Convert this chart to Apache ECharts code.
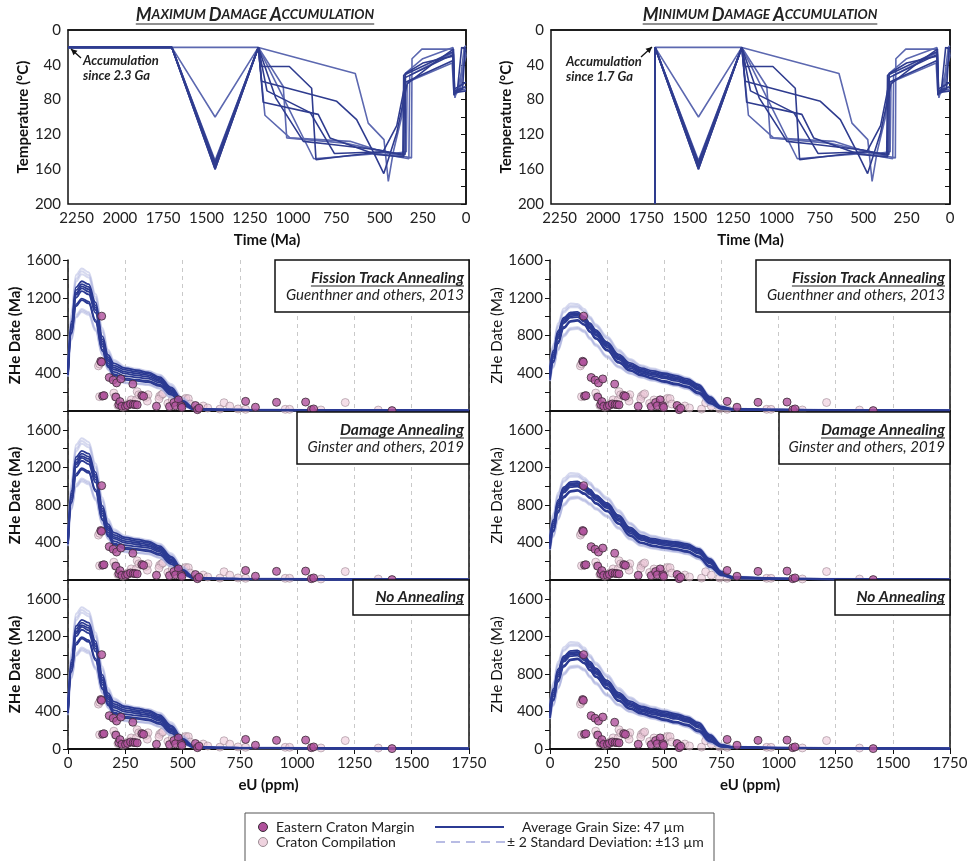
<!DOCTYPE html>
<html>
<head>
<meta charset="utf-8">
<script src="https://cdn.jsdelivr.net/npm/echarts@6/dist/echarts.min.js"></script>
<style>
html, body { margin: 0; padding: 0; background: #fff; }
#main { width: 970px; height: 861px; }
</style>
</head>
<body>
<div id="main"></div>
<script>
// ---- eU sample positions (ppm) shared by all date-eU curves
const EU = [0, 15, 35, 60, 90, 120, 150, 175, 200, 250, 300, 350, 400, 450, 500, 550, 600, 650, 700, 750, 800, 1000, 1250, 1500, 1750];

// left column (max damage accumulation), average grain size
const leftDark = [
  [420, 950, 1310, 1375, 1345, 1150, 790, 595, 505, 455, 432, 410, 360, 250, 110, 32, 18, 15, 14, 13, 12, 10, 8, 6, 5],
  [410, 920, 1280, 1345, 1315, 1120, 760, 570, 480, 435, 415, 395, 345, 235, 100, 28, 17, 15, 14, 13, 12, 10, 8, 6, 5],
  [405, 900, 1250, 1320, 1290, 1095, 735, 550, 460, 415, 397, 380, 330, 220, 90, 25, 16, 14, 13, 12, 11, 9, 7, 6, 5],
  [400, 880, 1230, 1300, 1265, 1070, 710, 530, 440, 395, 378, 362, 315, 210, 85, 24, 16, 14, 13, 12, 11, 9, 7, 6, 5],
  [395, 860, 1200, 1270, 1235, 1040, 685, 505, 415, 370, 357, 342, 300, 200, 80, 22, 15, 13, 12, 11, 10, 9, 7, 5, 4],
  [385, 830, 1130, 1190, 1160, 965, 650, 480, 390, 345, 332, 318, 280, 185, 70, 20, 15, 13, 12, 11, 10, 8, 7, 5, 4],
  [380, 820, 1110, 1175, 1140, 945, 635, 465, 378, 330, 320, 305, 265, 170, 62, 18, 14, 12, 11, 10, 9, 8, 6, 5, 4]
];
// left column, +/- 2 SD grain size
const leftLight = [
  [450, 1050, 1440, 1510, 1470, 1240, 880, 650, 540, 470, 447, 425, 385, 285, 140, 42, 22, 18, 16, 15, 14, 12, 9, 7, 6],
  [440, 1010, 1400, 1480, 1440, 1210, 855, 630, 525, 460, 440, 420, 375, 270, 130, 38, 20, 17, 15, 14, 13, 11, 9, 7, 6],
  [430, 980, 1370, 1450, 1415, 1190, 835, 615, 512, 450, 432, 410, 365, 260, 120, 35, 19, 16, 15, 14, 13, 11, 8, 6, 5],
  [370, 770, 1020, 1080, 1050, 875, 610, 450, 360, 305, 295, 285, 245, 150, 55, 16, 13, 12, 11, 10, 9, 8, 6, 5, 4],
  [360, 750, 990, 1050, 1020, 850, 590, 435, 348, 295, 287, 275, 235, 140, 50, 15, 12, 11, 10, 9, 8, 7, 6, 5, 4],
  [365, 760, 1000, 1065, 1035, 862, 600, 442, 354, 300, 291, 280, 240, 145, 52, 15, 12, 11, 10, 9, 8, 7, 6, 5, 4]
];
// right column (min damage accumulation): fission track and no annealing
const rightDark = [
  [460, 640, 850, 990, 1045, 1050, 1000, 930, 860, 730, 600, 510, 455, 425, 400, 375, 340, 280, 150, 45, 22, 14, 10, 7, 5],
  [440, 620, 830, 975, 1030, 1035, 985, 915, 845, 715, 585, 495, 440, 410, 385, 360, 325, 265, 140, 40, 20, 13, 9, 7, 5],
  [420, 600, 810, 960, 1020, 1025, 975, 900, 830, 700, 570, 480, 425, 395, 370, 345, 312, 250, 128, 36, 19, 13, 9, 6, 5],
  [400, 580, 790, 945, 1005, 1010, 960, 885, 815, 690, 560, 470, 415, 385, 360, 335, 300, 240, 118, 34, 18, 12, 9, 6, 5],
  [380, 560, 770, 930, 990, 995, 945, 870, 800, 675, 545, 455, 400, 370, 345, 320, 288, 225, 105, 30, 17, 12, 8, 6, 5],
  [350, 530, 735, 890, 955, 965, 920, 845, 775, 650, 520, 435, 385, 350, 318, 292, 262, 200, 88, 26, 16, 11, 8, 6, 4],
  [330, 515, 715, 875, 945, 955, 910, 835, 765, 640, 510, 425, 375, 340, 305, 280, 250, 185, 78, 24, 15, 11, 8, 6, 4]
];
const rightLight = [
  [480, 710, 930, 1085, 1140, 1135, 1080, 1000, 920, 790, 650, 550, 485, 450, 420, 392, 355, 290, 165, 55, 25, 15, 11, 8, 6],
  [470, 690, 905, 1060, 1115, 1115, 1060, 985, 905, 775, 635, 540, 475, 440, 410, 385, 348, 282, 158, 50, 24, 15, 10, 8, 6],
  [460, 675, 890, 1045, 1100, 1100, 1050, 975, 895, 765, 625, 530, 468, 432, 404, 380, 343, 276, 152, 48, 23, 14, 10, 7, 5],
  [320, 470, 650, 800, 870, 880, 845, 770, 700, 575, 470, 400, 358, 325, 298, 270, 238, 170, 65, 20, 13, 10, 7, 5, 4],
  [315, 460, 640, 790, 860, 870, 835, 760, 690, 565, 462, 395, 352, 320, 292, 265, 232, 165, 60, 18, 12, 9, 7, 5, 4],
  [325, 480, 660, 812, 882, 890, 855, 780, 710, 585, 478, 405, 362, 330, 302, 275, 242, 175, 70, 21, 13, 10, 7, 5, 4]
];
// right column, damage annealing
const rightDaDark = [
  [460, 640, 850, 990, 1045, 1050, 1010, 965, 905, 820, 690, 560, 475, 440, 420, 405, 385, 330, 225, 90, 32, 16, 11, 7, 5],
  [440, 620, 830, 975, 1030, 1035, 995, 952, 892, 805, 675, 545, 462, 428, 408, 392, 372, 318, 212, 82, 30, 15, 10, 7, 5],
  [420, 600, 810, 960, 1020, 1025, 985, 940, 880, 795, 660, 530, 450, 418, 398, 382, 362, 308, 200, 76, 28, 15, 10, 7, 5],
  [400, 580, 790, 945, 1005, 1010, 970, 925, 865, 780, 645, 515, 438, 405, 385, 368, 348, 294, 188, 70, 26, 14, 10, 6, 5],
  [380, 560, 770, 930, 990, 995, 955, 910, 850, 765, 630, 500, 425, 392, 372, 355, 335, 280, 175, 64, 24, 13, 9, 6, 5],
  [350, 530, 735, 890, 950, 960, 925, 880, 822, 738, 605, 478, 400, 368, 350, 332, 310, 255, 150, 55, 21, 12, 9, 6, 4],
  [330, 515, 715, 875, 940, 950, 915, 870, 812, 728, 595, 468, 392, 358, 340, 322, 298, 242, 138, 50, 20, 12, 8, 6, 4]
];
const rightDaLight = [
  [480, 710, 930, 1085, 1140, 1135, 1090, 1040, 975, 880, 745, 610, 515, 470, 445, 425, 400, 345, 240, 100, 36, 18, 12, 8, 6],
  [470, 690, 905, 1060, 1115, 1115, 1070, 1025, 960, 865, 730, 598, 505, 462, 438, 418, 392, 338, 232, 95, 34, 17, 11, 8, 6],
  [460, 675, 890, 1045, 1100, 1100, 1060, 1015, 950, 855, 720, 590, 498, 456, 432, 412, 386, 332, 226, 92, 33, 17, 11, 7, 5],
  [320, 470, 650, 800, 870, 880, 850, 810, 760, 680, 555, 440, 370, 340, 322, 304, 280, 225, 125, 44, 18, 11, 8, 5, 4],
  [315, 460, 640, 790, 860, 870, 840, 800, 750, 670, 545, 432, 362, 332, 315, 298, 274, 220, 120, 42, 17, 11, 8, 5, 4],
  [325, 480, 660, 812, 882, 890, 860, 820, 770, 690, 565, 448, 378, 347, 328, 310, 286, 230, 130, 46, 19, 12, 8, 5, 4]
];

// ---- measured grains [eU ppm, ZHe date Ma]
const easternMargin = [
  [147, 1005], [143, 527], [146, 518], [151, 158], [157, 163], [180, 355], [197, 328], [212, 298],
  [231, 340], [283, 285], [209, 148], [222, 67], [227, 100], [235, 50], [251, 48], [260, 60],
  [273, 75], [285, 70], [293, 68], [302, 65], [323, 163], [330, 156], [386, 50], [443, 47],
  [462, 90], [482, 118], [469, 55], [494, 55], [497, 38], [556, 58], [565, 14], [572, 30],
  [775, 102], [818, 40], [910, 92], [1037, 95], [1062, 14], [1072, 22], [1414, 4]
];
const cratonCompilation = [
  [133, 478], [138, 498], [138, 152], [200, 190], [206, 150], [218, 58], [240, 40], [262, 77],
  [276, 118], [298, 117], [302, 205], [309, 172], [320, 168], [341, 145], [349, 173], [346, 105],
  [400, 156], [408, 172], [397, 127], [414, 182], [436, 81], [455, 117], [472, 67], [506, 120],
  [514, 134], [525, 131], [533, 74], [590, 53], [610, 32], [663, 20], [681, 88], [706, 52],
  [742, 22], [775, 18], [948, 18], [967, 18], [1104, 11], [1210, 90], [1354, 10]
];

// ---- time-temperature paths [Ma, degC]
const pathA = [[2300,20],[1700,20],[1450,160],[1200,20],[1181,42],[1021,42],[892,67],[867,149],[661,144],[474,140],[352,143],[350,50],[250,38],[75,30],[70,75],[50,70],[25,20],[0,22]];
const pathB = [[2300,20],[1700,20],[1450,158],[1200,20],[1181,59],[747,82],[632,103],[536,140],[475,165],[400,118],[340,62],[200,40],[73,22],[66,72],[20,68],[5,20],[0,25]];
const pathC = [[2300,20],[1700,20],[1450,155],[1200,20],[1172,83],[854,97],[786,124],[520,143],[360,146],[355,55],[73,28],[68,70],[0,65]];
const pathD = [[2300,20],[1700,20],[1450,150],[1200,20],[1162,98],[1017,124],[670,128],[450,142],[315,147],[312,33],[255,22],[73,22],[66,75],[40,70],[10,20],[0,18]];
const pathE = [[2300,20],[1700,20],[1450,100],[1200,20],[1056,65],[1036,124],[700,130],[420,142],[345,140],[340,60],[80,38],[70,72],[30,65],[3,25],[0,30]];
const pathF = [[2300,20],[1700,20],[1200,20],[640,50],[565,107],[474,126],[449,174],[420,140],[372,100],[352,50],[250,33],[75,20],[68,70],[0,68]];
const pathG = [[2300,20],[1700,20],[1450,160],[1200,20],[1100,78],[940,128],[800,131],[500,138],[365,144],[360,52],[75,25],[68,68],[0,60]];
const pathH = [[2300,20],[1700,20],[1450,152],[1200,20],[1150,70],[900,95],[760,142],[480,140],[400,110],[350,60],[75,35],[67,72],[0,70]];
const pathI = [[2300,20],[1700,20],[1450,153],[1200,20],[1050,80],[880,148],[500,142],[330,148],[325,52],[73,26],[64,78],[0,30]];
const darkPaths = [pathA, pathB, pathC, pathG, pathH];
const lightPaths = [pathD, pathE, pathF, pathI];

const FONT = 'Lato, "Open Sans", sans-serif';
const DARK = '#2B3A93';
const LIGHT = 'rgba(165,170,220,0.45)';
const ECM = '#B0519C';
const CC = 'rgba(236,200,216,0.75)';

const chart = echarts.init(document.getElementById('main'), null, { renderer: 'canvas' });

const ctx = document.createElement('canvas').getContext('2d');
function textW(t, font) { ctx.font = font; return ctx.measureText(t).width; }

const grids = [
  { left: 68, top: 30, width: 398, height: 174, show: true, borderColor: '#111', borderWidth: 1.5 },
  { left: 551, top: 30, width: 399, height: 174, show: true, borderColor: '#111', borderWidth: 1.5 },
  { left: 68, top: 260, width: 401, height: 151 },
  { left: 68, top: 411, width: 401, height: 169 },
  { left: 68, top: 580, width: 401, height: 169 },
  { left: 550, top: 260, width: 400, height: 151 },
  { left: 550, top: 411, width: 400, height: 169 },
  { left: 550, top: 580, width: 400, height: 169 }
];
grids.forEach(g => { g.outerBoundsMode = 'none'; });

const labelStyle = { fontSize: 15, color: '#222', fontFamily: FONT };
const xAxes = [];
const yAxes = [];

[0, 1].forEach(gi => {
  xAxes.push({
    type: 'value', gridIndex: gi, min: 0, max: 2300, interval: 250, inverse: true,
    axisLine: { show: true, lineStyle: { color: '#111', width: 1.5 } },
    axisTick: { show: false }, splitLine: { show: false },
    axisLabel: Object.assign({ margin: 7, formatter: v => (v % 250 === 0 ? String(v) : '') }, labelStyle),
    name: 'Time (Ma)', nameLocation: 'middle', nameGap: 29,
    nameTextStyle: { fontSize: 15, fontWeight: 'bold', color: '#111', fontFamily: FONT }
  });
  yAxes.push({
    type: 'value', gridIndex: gi, min: 0, max: 200, interval: 20, inverse: true,
    axisLine: { show: true, lineStyle: { color: '#111', width: 1.5 } },
    axisTick: { show: true, length: 5, lineStyle: { color: '#111' } },
    splitLine: { show: false },
    axisLabel: Object.assign({ margin: 7, formatter: v => (v % 40 === 0 ? String(v) : '') }, labelStyle),
    name: 'Temperature (°C)', nameLocation: 'middle', nameGap: 36,
    nameTextStyle: { fontSize: 15, fontWeight: 'bold', color: '#111', fontFamily: FONT }
  });
});

const panelMax = [1600, 1800, 1800];
for (let k = 0; k < 6; k++) {
  const gi = k + 2;
  const row = k % 3;
  const col = k < 3 ? 0 : 1;
  xAxes.push({
    type: 'value', gridIndex: gi, min: 0, max: 1750, interval: 250,
    axisLine: { show: true, onZero: false, lineStyle: { color: '#111', width: 2 } },
    axisTick: { show: row === 2, length: 5, lineStyle: { color: '#111' } },
    splitLine: { show: true, lineStyle: { type: [4, 4], color: '#c9c9c9', width: 1 } },
    axisLabel: Object.assign({ show: row === 2, margin: 7, formatter: v => String(v) }, labelStyle),
    name: row === 2 ? 'eU (ppm)' : '', nameLocation: 'middle', nameGap: 29,
    nameTextStyle: { fontSize: 15, fontWeight: 'bold', color: '#111', fontFamily: FONT }
  });
  yAxes.push({
    type: 'value', gridIndex: gi, min: 0, max: panelMax[row], interval: 200,
    axisLine: { show: true, onZero: false, lineStyle: { color: '#111', width: 1.5 } },
    axisTick: { show: true, length: 5, lineStyle: { color: '#111' } },
    splitLine: { show: false },
    axisLabel: Object.assign({ margin: 7, formatter: v => ((v % 400 === 0 && v <= 1600 && (v > 0 || row === 2)) ? String(v) : '') }, labelStyle),
    name: 'ZHe Date (Ma)', nameLocation: 'middle', nameGap: 42,
    nameTextStyle: { fontSize: 15, fontWeight: col === 0 ? 'bold' : 'normal', color: '#111', fontFamily: FONT }
  });
}
for (let k = 0; k < 6; k++) {
  yAxes.push({
    type: 'value', gridIndex: k + 2, position: 'right', min: 0, max: panelMax[k % 3],
    axisLine: { show: true, onZero: false, lineStyle: { color: '#111', width: 1.5 } },
    axisTick: { show: false }, axisLabel: { show: false }, splitLine: { show: false }
  });
}

const series = [];
function tLine(gi, path, color) {
  series.push({
    type: 'line', xAxisIndex: gi, yAxisIndex: gi, data: path, showSymbol: false, symbol: 'none',
    lineStyle: { color: color, width: 1.6 }, z: 3, silent: true
  });
}
lightPaths.forEach(p => tLine(0, p, '#5C68B0'));
darkPaths.forEach(p => tLine(0, p, '#2F3C8F'));
function minPath(p) { return [[1700, 200]].concat(p.filter(q => q[0] <= 1700)); }
lightPaths.forEach(p => tLine(1, minPath(p), '#5C68B0'));
darkPaths.forEach(p => tLine(1, minPath(p), '#2F3C8F'));

function curves(gi, dark, light) {
  series.push({
    type: 'scatter', xAxisIndex: gi, yAxisIndex: gi, data: cratonCompilation, symbolSize: 8,
    itemStyle: { color: CC, borderColor: 'rgba(150,130,140,0.7)', borderWidth: 1 }, z: 2, silent: true
  });
  light.forEach(arr => series.push({
    type: 'line', xAxisIndex: gi, yAxisIndex: gi, data: EU.map((x, i) => [x, arr[i]]),
    showSymbol: false, symbol: 'none', smooth: 0.4, smoothMonotone: 'x',
    lineStyle: { color: LIGHT, width: 2 }, z: 3, silent: true
  }));
  dark.forEach(arr => series.push({
    type: 'line', xAxisIndex: gi, yAxisIndex: gi, data: EU.map((x, i) => [x, arr[i]]),
    showSymbol: false, symbol: 'none', smooth: 0.4, smoothMonotone: 'x',
    lineStyle: { color: DARK, width: 1.8 }, z: 4, silent: true
  }));
  series.push({
    type: 'scatter', xAxisIndex: gi, yAxisIndex: gi, data: easternMargin, symbolSize: 8,
    itemStyle: { color: ECM, borderColor: '#3a2a35', borderWidth: 1 }, z: 6, silent: true
  });
}
curves(2, leftDark, leftLight);
curves(3, leftDark, leftLight);
curves(4, leftDark, leftLight);
curves(5, rightDark, rightLight);
curves(6, rightDaDark, rightDaLight);
curves(7, rightDark, rightLight);

// ---- graphic overlays: titles, annotations, boxed labels, legend
const graphic = [];
function smallCapsTitle(cx, cy, words) {
  const big = 'italic bold 18px ' + FONT, small = 'italic bold 13.5px ' + FONT;
  let text = '', w = 0;
  words.forEach((wd, i) => {
    const sp = i < words.length - 1 ? ' ' : '';
    text += '{a|' + wd[0] + '}{b|' + wd.slice(1) + sp + '}';
    w += textW(wd[0], big) + textW(wd.slice(1) + sp, small);
  });
  graphic.push({
    type: 'text', x: cx, y: cy, z: 10,
    style: {
      text: text, align: 'center', verticalAlign: 'middle', fill: '#222',
      rich: {
        a: { fontSize: 18, fontWeight: 'bold', fontStyle: 'italic', fontFamily: FONT, fill: '#222' },
        b: { fontSize: 13.5, fontWeight: 'bold', fontStyle: 'italic', fontFamily: FONT, fill: '#222' }
      }
    }
  });
  graphic.push({ type: 'line', z: 10, shape: { x1: cx - w / 2, y1: cy + 9, x2: cx + w / 2, y2: cy + 9 }, style: { stroke: '#222', lineWidth: 1.2 } });
}
smallCapsTitle(255, 15, ['MAXIMUM', 'DAMAGE', 'ACCUMULATION']);
smallCapsTitle(760, 15, ['MINIMUM', 'DAMAGE', 'ACCUMULATION']);

function note(x, y, l1, l2, ax1, ay1, ax2, ay2) {
  const f = 'italic bold 13px ' + FONT;
  graphic.push({ type: 'text', x: x, y: y, z: 10, style: { text: l1, font: f, fill: '#222', verticalAlign: 'middle' } });
  graphic.push({ type: 'text', x: x, y: y + 15, z: 10, style: { text: l2, font: f, fill: '#222', verticalAlign: 'middle' } });
  graphic.push({ type: 'line', z: 10, shape: { x1: ax1, y1: ay1, x2: ax2, y2: ay2 }, style: { stroke: '#111', lineWidth: 1.3 } });
  const ang = Math.atan2(ay2 - ay1, ax2 - ax1), L = 6, Wd = 3;
  const bx = ax2 - L * Math.cos(ang), by = ay2 - L * Math.sin(ang);
  graphic.push({ type: 'polygon', z: 10, shape: { points: [[ax2, ay2], [bx + Wd * Math.sin(ang), by - Wd * Math.cos(ang)], [bx - Wd * Math.sin(ang), by + Wd * Math.cos(ang)]] }, style: { fill: '#111' } });
}
note(83, 61, 'Accumulation', 'since 2.3 Ga', 81, 58, 71, 49);
note(566, 62, 'Accumulation', 'since 1.7 Ga', 641, 57, 652, 47);

function boxLabel(x1, y1, x2, y2, title, sub) {
  graphic.push({ type: 'rect', z: 8, shape: { x: x1, y: y1, width: x2 - x1, height: y2 - y1 }, style: { fill: '#fff', stroke: '#111', lineWidth: 1.5 } });
  const tf = 'italic bold 15.5px ' + FONT, sf = 'italic 15px ' + FONT;
  const ty = sub ? y1 + 18 : (y1 + y2) / 2 - 1;
  const rx = x2 - 5;
  graphic.push({ type: 'text', x: rx, y: ty, z: 9, style: { text: title, font: tf, fill: '#222', align: 'right', verticalAlign: 'middle' } });
  const w = textW(title, tf);
  graphic.push({ type: 'line', z: 9, shape: { x1: rx - w, y1: ty + 8, x2: rx, y2: ty + 8 }, style: { stroke: '#222', lineWidth: 1.1 } });
  if (sub) graphic.push({ type: 'text', x: rx, y: ty + 17, z: 9, style: { text: sub, font: sf, fill: '#222', align: 'right', verticalAlign: 'middle' } });
}
boxLabel(275, 260, 469, 312, 'Fission Track Annealing', 'Guenthner and others, 2013');
boxLabel(297, 412, 469, 464, 'Damage Annealing', 'Ginster and others, 2019');
boxLabel(353, 580, 469, 615, 'No Annealing', null);
boxLabel(756, 260, 950, 312, 'Fission Track Annealing', 'Guenthner and others, 2013');
boxLabel(779, 412, 950, 464, 'Damage Annealing', 'Ginster and others, 2019');
boxLabel(835, 580, 950, 615, 'No Annealing', null);

// legend
const lf = '14px ' + FONT;
graphic.push({ type: 'rect', z: 8, shape: { x: 245, y: 813, width: 469, height: 60 }, style: { fill: '#fff', stroke: '#555', lineWidth: 1 } });
graphic.push({ type: 'circle', z: 9, shape: { cx: 263, cy: 827, r: 4.5 }, style: { fill: ECM, stroke: '#3a2a35', lineWidth: 1 } });
graphic.push({ type: 'text', z: 9, x: 276, y: 827, style: { text: 'Eastern Craton Margin', font: lf, fill: '#222', verticalAlign: 'middle' } });
graphic.push({ type: 'circle', z: 9, shape: { cx: 263, cy: 842, r: 4.5 }, style: { fill: '#EFD3DF', stroke: '#9a8a92', lineWidth: 1 } });
graphic.push({ type: 'text', z: 9, x: 276, y: 842, style: { text: 'Craton Compilation', font: lf, fill: '#222', verticalAlign: 'middle' } });
graphic.push({ type: 'line', z: 9, shape: { x1: 435, y1: 827, x2: 504, y2: 827 }, style: { stroke: DARK, lineWidth: 2 } });
graphic.push({ type: 'text', z: 9, x: 522, y: 827, style: { text: 'Average Grain Size: 47 µm', font: lf, fill: '#222', verticalAlign: 'middle' } });
graphic.push({ type: 'line', z: 9, shape: { x1: 436, y1: 842, x2: 505, y2: 842 }, style: { stroke: '#B8BCE4', lineWidth: 2, lineDash: [9, 6] } });
graphic.push({ type: 'text', z: 9, x: 507, y: 842, style: { text: '± 2 Standard Deviation: ±13 µm', font: lf, fill: '#222', verticalAlign: 'middle' } });

chart.setOption({
  animation: false,
  backgroundColor: '#fff',
  textStyle: { fontFamily: FONT },
  grid: grids,
  xAxis: xAxes,
  yAxis: yAxes,
  series: series,
  graphic: graphic
});
</script>
</body>
</html>
